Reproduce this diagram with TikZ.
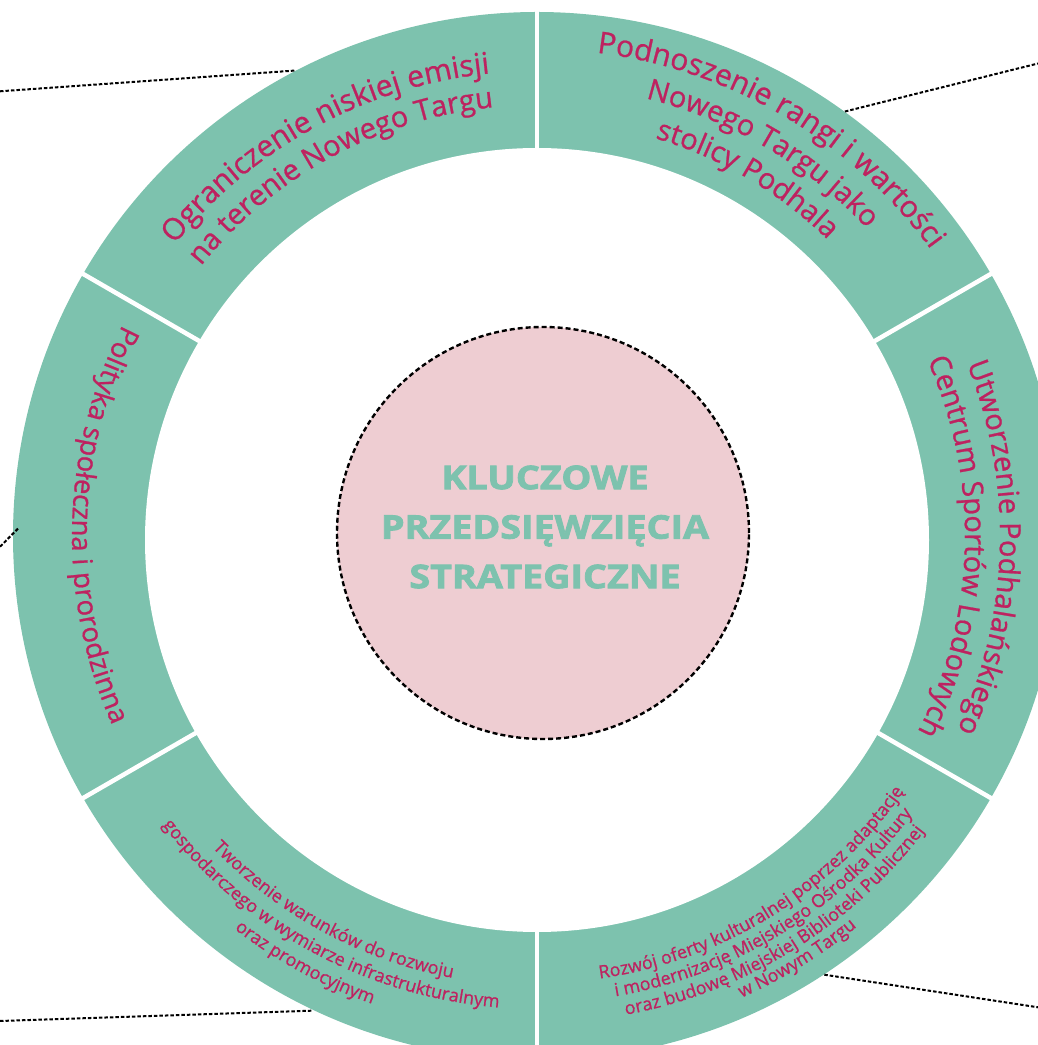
\documentclass[tikz,border=0pt]{standalone}
\usepackage{fontspec}
\setmainfont{Open Sans}[FakeBold=0.8]
\newfontfamily\coreFont{Open Sans}[FakeStretch=1.16, FakeBold=2.6]
\usepackage{tikz}
\usetikzlibrary{decorations.text}

\definecolor{ringTeal}{RGB}{125,194,174}
\definecolor{labelRed}{RGB}{190,34,96}
\definecolor{corePink}{RGB}{238,205,210}

\begin{document}
\begin{tikzpicture}[
  x=1pt, y=1pt,
  ring/.style={fill=ringTeal},
  hole/.style={fill=white},
  gap/.style={draw=white, line width=4.5pt},
  hub/.style={circle, fill=corePink, draw=black, line width=2.4pt, dash pattern=on 5pt off 3pt, minimum size=412pt, inner sep=0pt},
  hubtext/.style={text=ringTeal, font=\coreFont\bfseries\fontsize{32.5}{49.5}\selectfont, align=center},
  link/.style={draw=black, line width=2pt, dash pattern=on 3.5pt off 2pt},
  arcline/.style={decorate, decoration={text along path, text align=center, text color=labelRed}}]

% frame of the picture
\useasboundingbox (0,0) rectangle (1038,1045);
\clip (0,0) rectangle (1038,1045);

\coordinate (ringCenter) at (537,509);
\coordinate (holeCenter) at (537,505);

% the ring and its six segments
\path[ring] (ringCenter) circle[radius=524];
\path[hole] (holeCenter) circle[radius=392];
\foreach \ang in {30,90,...,330}
  \draw[gap] (ringCenter) ++(\ang:300) -- ++(\ang:300);

% the core in the middle
\node[hub] (coreCircle) at (543,512) {};
\node[hubtext] (coreLabel) at ([xshift=2pt,yshift=6pt]coreCircle.center) {KLUCZOWE\\PRZEDSIĘWZIĘCIA\\STRATEGICZNE};

% top left segment
\path[arcline, decoration={text={|\fontsize{30}{30}\selectfont|Ograniczenie niskiej emisji}}]
  (ringCenter) ++(148.5:465) arc[start angle=148.5, end angle=88.5, radius=465];
\path[arcline, decoration={text={|\fontsize{29}{29}\selectfont|na terenie Nowego Targu}}]
  (ringCenter) ++(148.5:431) arc[start angle=148.5, end angle=88.5, radius=431];

% top right segment
\path[arcline, decoration={text={|\fontsize{30}{30}\selectfont|Podnoszenie rangi i wartości}}]
  (ringCenter) ++(89.5:487) arc[start angle=89.5, end angle=29.5, radius=487];
\path[arcline, decoration={text={|\fontsize{29}{29}\selectfont|Nowego Targu jako}}]
  (ringCenter) ++(89.5:451) arc[start angle=89.5, end angle=29.5, radius=451];
\path[arcline, decoration={text={|\fontsize{29}{29}\selectfont|stolicy Podhala}}]
  (ringCenter) ++(89.5:415) arc[start angle=89.5, end angle=29.5, radius=415];

% right segment
\path[arcline, decoration={text={|\fontsize{29}{29}\selectfont|Utworzenie Podhalańskiego}}]
  (ringCenter) ++(28.5:463) arc[start angle=28.5, end angle=-31.5, radius=463];
\path[arcline, decoration={text={|\fontsize{29}{29}\selectfont|Centrum Sportów Lodowych}}]
  (ringCenter) ++(28.5:428) arc[start angle=28.5, end angle=-31.5, radius=428];

% left segment
\path[arcline, decoration={text={|\fontsize{27.5}{27.5}\selectfont|Polityka społeczna i prorodzinna}}]
  (ringCenter) ++(148.5:465) arc[start angle=148.5, end angle=208.5, radius=465];

% bottom left segment
\path[arcline, decoration={text={|\fontsize{18}{18}\selectfont|Tworzenie warunków do rozwoju}}]
  (ringCenter) ++(211.5:450) arc[start angle=211.5, end angle=271.5, radius=450];
\path[arcline, decoration={text={|\fontsize{18}{18}\selectfont|gospodarczego w wymiarze infrastrukturalnym}}]
  (ringCenter) ++(211.5:473) arc[start angle=211.5, end angle=271.5, radius=473];
\path[arcline, decoration={text={|\fontsize{18}{18}\selectfont|oraz promocyjnym}}]
  (ringCenter) ++(211.5:496) arc[start angle=211.5, end angle=271.5, radius=496];

% bottom right segment
\path[arcline, decoration={text={|\fontsize{18}{18}\selectfont|Rozwój oferty kulturalnej poprzez adaptację}}]
  (ringCenter) ++(271.6:447) arc[start angle=271.6, end angle=331.6, radius=447];
\path[arcline, decoration={text={|\fontsize{18}{18}\selectfont|i modernizację Miejskiego Ośrodka Kultury}}]
  (ringCenter) ++(271.6:467) arc[start angle=271.6, end angle=331.6, radius=467];
\path[arcline, decoration={text={|\fontsize{18}{18}\selectfont|oraz budowę Miejskiej Biblioteki Publicznej}}]
  (ringCenter) ++(271.6:487) arc[start angle=271.6, end angle=331.6, radius=487];
\path[arcline, decoration={text={|\fontsize{18}{18}\selectfont|w Nowym Targu}}]
  (ringCenter) ++(271.6:505) arc[start angle=271.6, end angle=331.6, radius=505];

% dotted leads running off the picture
\coordinate (leadTopLeft) at (0,953.7);
\coordinate (ringTopLeft) at (294.4,974.4);
\coordinate (leadTopRight) at (1038,981.5);
\coordinate (ringTopRight) at (844.9,933.5);
\coordinate (leadLeft) at (0,498.3);
\coordinate (ringLeft) at (18.3,516.7);
\coordinate (leadBottomLeft) at (0,24);
\coordinate (ringBottomLeft) at (311.6,34.3);
\coordinate (leadBottomRight) at (1038,37.7);
\coordinate (ringBottomRight) at (824.3,70.3);

\draw[link] (leadTopLeft) -- (ringTopLeft);
\draw[link] (ringTopRight) -- (leadTopRight);
\draw[link] (leadLeft) -- (ringLeft);
\draw[link] (leadBottomLeft) -- (ringBottomLeft);
\draw[link] (ringBottomRight) -- (leadBottomRight);

\end{tikzpicture}
\end{document}
